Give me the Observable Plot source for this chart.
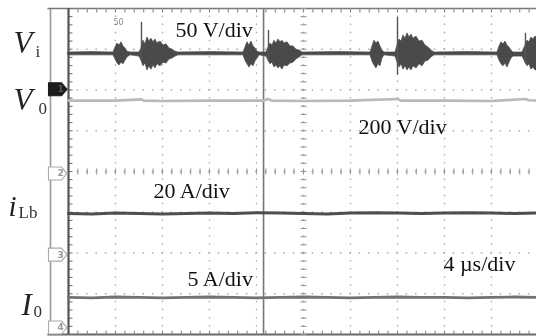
<!DOCTYPE html>
<html><head><meta charset="utf-8">
<script src="https://cdn.jsdelivr.net/npm/d3@7"></script>
<script src="https://cdn.jsdelivr.net/npm/@observablehq/plot@0.6"></script>
<style>
html,body{margin:0;padding:0;background:#fff;}
#chart svg{display:block;filter:blur(0.3px);}
</style></head><body><div id="chart"></div>
<script>
// Time in µs (4 µs/div); vertical position in screen divisions (0 = bottom, 8 = top)
const viTime = [0,2.0,
  3.83,4.00,4.17,4.34,4.51,4.68,4.85,5.02,5.28,
  6.04,
  6.21,6.38,6.55,6.72,6.89,7.06,7.23,7.40,7.57,7.83,8.09,8.34,8.60,8.85,9.11,9.36,
  12.0,
  14.89,15.06,15.23,15.40,15.57,15.74,15.91,16.09,16.26,
  16.85,
  17.02,17.19,17.36,17.53,17.70,17.87,18.04,18.21,18.38,18.64,18.89,19.15,19.40,19.66,19.91,
  23.0,
  25.70,25.87,26.04,26.21,26.38,26.55,26.72,26.89,
  27.83,
  28.00,28.17,28.34,28.51,28.68,28.85,29.02,29.19,29.36,29.62,29.87,30.13,30.38,30.64,30.89,31.15,
  34.0,
  36.51,36.68,36.85,37.02,37.19,37.36,37.53,37.70,37.87,
  38.64,
  38.89,39.06,39.23,39.40,39.57,39.74,40.00];
const viHigh = [6.92,6.93,
  6.92,7.04,7.14,7.09,7.17,7.07,7.02,6.94,6.92,
  6.92,
  7.02,7.21,7.12,7.29,7.19,7.26,7.17,7.24,7.14,7.19,7.09,7.12,7.02,6.99,6.94,6.92,
  6.93,
  6.92,7.04,7.17,7.09,7.19,7.07,7.02,6.94,6.92,
  6.92,
  7.04,7.14,7.09,7.21,7.14,7.24,7.17,7.21,7.14,7.17,7.07,7.07,6.99,6.97,6.92,
  6.93,
  6.92,7.07,7.21,7.14,7.19,7.07,6.97,6.92,
  6.92,
  7.09,7.24,7.19,7.34,7.26,7.39,7.29,7.36,7.26,7.31,7.19,7.21,7.09,7.04,6.97,6.92,
  6.93,
  6.92,7.07,7.17,7.12,7.19,7.09,7.04,6.97,6.92,
  6.92,
  7.09,7.21,7.17,7.29,7.24,7.31,7.26];
const viLow = [6.85,6.85,
  6.85,6.75,6.65,6.60,6.67,6.63,6.72,6.80,6.85,
  6.82,
  6.72,6.58,6.65,6.48,6.58,6.50,6.60,6.53,6.63,6.58,6.67,6.65,6.75,6.77,6.82,6.85,
  6.85,
  6.85,6.72,6.63,6.55,6.63,6.58,6.70,6.77,6.85,
  6.82,
  6.72,6.63,6.67,6.55,6.60,6.53,6.58,6.50,6.60,6.58,6.65,6.67,6.75,6.80,6.85,
  6.85,
  6.85,6.70,6.60,6.53,6.63,6.58,6.77,6.85,
  6.82,
  6.67,6.55,6.63,6.50,6.58,6.48,6.55,6.48,6.58,6.53,6.63,6.58,6.70,6.72,6.80,6.85,
  6.85,
  6.85,6.72,6.63,6.58,6.65,6.55,6.67,6.77,6.82,
  6.82,
  6.67,6.58,6.63,6.50,6.55,6.48,6.50];
const spikeTime = [6.21, 17.02, 28.00, 38.89];
const spikeTop = [7.66, 7.46, 7.78, 7.39];
const spikeBottom = [6.70, 6.70, 6.36, 6.65];

const v0Time = [0,4,6.2,6.4,8,12,16.6,17.0,17.3,20,24,28.0,28.3,32,36,38.9,39.2,40];
const v0Level = [5.74,5.74,5.77,5.74,5.73,5.74,5.74,5.78,5.74,5.73,5.74,5.78,5.74,5.74,5.73,5.78,5.75,5.74];

const flatTime = [0,2,4,6,8,10,12,14,16,18,20,22,24,26,28,30,32,34,36,38,40];
const iLbLevel = [2.97,2.96,2.98,2.97,2.96,2.97,2.98,2.97,2.99,2.98,2.97,2.96,2.98,2.99,2.98,2.97,2.98,2.99,2.98,2.97,2.98];
const i0Level = [0.91,0.90,0.92,0.91,0.90,0.91,0.92,0.91,0.90,0.91,0.92,0.91,0.90,0.91,0.92,0.91,0.91,0.90,0.91,0.92,0.91];

const cursorTime = [16.6];
const channelNames = ["1","2","3","4"];
const channelGround = [6.02, 3.95, 1.96, 0.17];

const traceMain = ["V","V","i","I"];
const traceMainY = [6.92, 5.50, 2.92, 0.47];
const traceMainDx = [-55, -55, -60, -47];
const traceMainSize = [31, 31, 29, 31];
const traceSub = ["i","0","Lb","0"];
const traceSubY = [6.80, 5.42, 2.85, 0.44];
const traceSubDx = [-33, -30, -50, -35];

const scaleText = ["50 V/div","200 V/div","20 A/div","5 A/div","4 \u00b5s/div"];
const scaleTextT = [9.11, 24.68, 7.23, 10.13, 31.91];
const scaleTextY = [7.29, 4.93, 3.36, 1.20, 1.57];

const gridT = [4,8,12,16,24,28,32,36];
const gridY = [1,2,3,5,6,7];

const idx = a => d3.range(a.length);
const serif = "Liberation Serif, Times New Roman, serif";

const pentagon = {draw(c){c.moveTo(-9,-6.5);c.lineTo(4,-6.5);c.lineTo(9.5,0);c.lineTo(4,6.5);c.lineTo(-9,6.5);c.closePath();}};
const hTick = {draw(c){c.moveTo(-3,0);c.lineTo(3,0);}};
const vTick = {draw(c){c.moveTo(0,-3);c.lineTo(0,3);}};
const hTickRight = {draw(c){c.moveTo(0,0);c.lineTo(4,0);}};
const vTickDown = {draw(c){c.moveTo(0,0);c.lineTo(0,4);}};
const vTickUp = {draw(c){c.moveTo(0,0);c.lineTo(0,-4);}};

const subY = d3.range(0, 8.001, 0.2);
const subT = d3.range(0, 40.001, 0.8);

const labelMarks = idx(traceMain).flatMap(i => [
  Plot.text([i], {frameAnchor: "left", dx: traceMainDx[i], y: () => traceMainY[i], text: () => traceMain[i],
    textAnchor: "start", lineAnchor: "bottom", fontSize: traceMainSize[i], fontStyle: "italic",
    fill: "#222", fontFamily: serif}),
  Plot.text([i], {frameAnchor: "left", dx: traceSubDx[i], y: () => traceSubY[i], text: () => traceSub[i],
    textAnchor: "start", lineAnchor: "bottom", fontSize: 17, fill: "#333", fontFamily: serif})
]);

const chart = Plot.plot({
  width: 536, height: 336,
  marginTop: 8, marginBottom: 2, marginLeft: 68, marginRight: -2,
  x: {domain: [0, 40], axis: null},
  y: {domain: [0, 8], axis: null},
  style: {background: "#fff", fontFamily: serif},
  marks: [
    // outer strip
    Plot.ruleX([0], {dx: -18, stroke: "#9a9a9a", strokeWidth: 1.6}),
    Plot.ruleY([8], {x1: -1.75, x2: 40, stroke: "#777", strokeWidth: 1.5}),
    Plot.ruleY([0], {x1: -1.75, x2: 40, stroke: "#666", strokeWidth: 1.8}),
    // dotted grid
    Plot.ruleX(gridT, {stroke: "#aaa", strokeWidth: 1.3, strokeDasharray: "1.5,6.65", strokeDashoffset: 0.75}),
    Plot.ruleY(gridY, {stroke: "#aaa", strokeWidth: 1.3, strokeDasharray: "1.5,7.9", strokeDashoffset: 0.75}),
    // center cross
    Plot.ruleX([20], {stroke: "#999", strokeWidth: 1.3, strokeDasharray: "1.5,6.65", strokeDashoffset: 0.75}),
    Plot.ruleY([4], {stroke: "#999", strokeWidth: 1.3, strokeDasharray: "1.5,7.9", strokeDashoffset: 0.75}),
    Plot.dot(subY, {x: () => 20, y: d => d, symbol: hTick, stroke: "#999", strokeWidth: 1.1, fill: "none"}),
    Plot.dot(subT, {x: d => d, y: () => 4, symbol: vTick, stroke: "#999", strokeWidth: 1.1, fill: "none"}),
    // border ticks
    Plot.dot(subY, {x: () => 0, y: d => d, symbol: hTickRight, stroke: "#777", strokeWidth: 1.1, fill: "none"}),
    Plot.dot(subT, {x: d => d, y: () => 8, symbol: vTickDown, stroke: "#888", strokeWidth: 1.1, fill: "none"}),
    Plot.dot(subT, {x: d => d, y: () => 0, symbol: vTickUp, stroke: "#888", strokeWidth: 1.1, fill: "none"}),
    // cursor
    Plot.ruleX(cursorTime, {stroke: "#777", strokeWidth: 1.6}),
    // left frame
    Plot.ruleX([0], {stroke: "#555", strokeWidth: 2.2}),
    // traces
    Plot.lineY(idx(flatTime), {x: i => flatTime[i], y: i => i0Level[i], stroke: "#727272", strokeWidth: 2.8}),
    Plot.lineY(idx(flatTime), {x: i => flatTime[i], y: i => iLbLevel[i], stroke: "#4e4e4e", strokeWidth: 3}),
    Plot.lineY(idx(v0Time), {x: i => v0Time[i], y: i => v0Level[i], stroke: "#b9b9b9", strokeWidth: 2.6}),
    Plot.areaY(idx(viTime), {x: i => viTime[i], y1: i => viLow[i], y2: i => viHigh[i], fill: "#4a4a4a", stroke: "#4a4a4a", strokeWidth: 0.7}),
    Plot.ruleX(idx(spikeTime), {x: i => spikeTime[i], y1: i => spikeBottom[i], y2: i => spikeTop[i], stroke: "#555", strokeWidth: 1.4}),
    // trigger glyph
    Plot.text(["50"], {x: () => 3.83, y: () => 7.66, text: d => d, fill: "#888", fontSize: 8, textAnchor: "start", fontFamily: "DejaVu Sans"}),
    // channel ground markers
    Plot.dot(idx(channelNames), {frameAnchor: "left", dx: -11, y: i => channelGround[i], symbol: pentagon,
      fill: i => i === 0 ? "#1c1c1c" : "#fff", stroke: i => i === 0 ? "#1c1c1c" : "#aaa", strokeWidth: 1.1}),
    Plot.text(idx(channelNames), {frameAnchor: "left", dx: -11, y: i => channelGround[i], text: i => channelNames[i],
      fill: i => i === 0 ? "#555" : "#999", fontSize: 9, fontFamily: "DejaVu Sans", fontWeight: "bold"}),
    // trace labels
    ...labelMarks,
    // scale annotations
    Plot.text(idx(scaleText), {x: i => scaleTextT[i], y: i => scaleTextY[i], text: i => scaleText[i],
      textAnchor: "start", lineAnchor: "bottom", fontSize: 22, fill: "#111", fontFamily: serif})
  ]
});
document.getElementById("chart").append(chart);
</script></body></html>
